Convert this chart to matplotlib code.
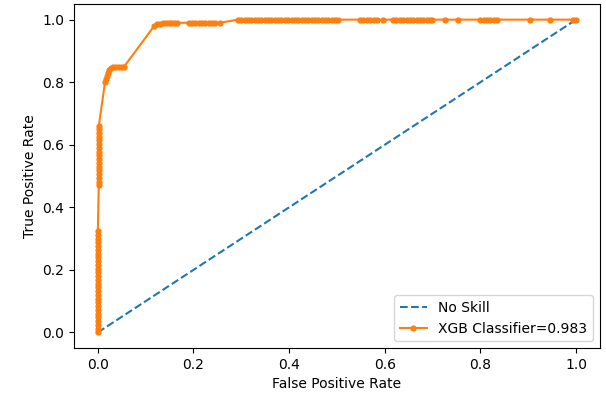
import matplotlib
matplotlib.use("Agg")
import matplotlib.pyplot as plt

# no-skill diagonal
ns_fpr = [0.0, 1.0]
ns_tpr = [0.0, 1.0]

# XGB ROC points
xgb_fpr = [
    # vertical run at fpr ~ 0
    0.0, 0.0, 0.0, 0.0, 0.0, 0.0, 0.0, 0.0, 0.0, 0.0, 0.0, 0.0, 0.0, 0.0,
    0.0, 0.0, 0.0, 0.0, 0.0, 0.0, 0.0, 0.0, 0.0, 0.0, 0.0, 0.0, 0.0, 0.0,
    0.002, 0.002, 0.002, 0.002, 0.002, 0.002, 0.002, 0.002, 0.002,
    0.002, 0.002, 0.002, 0.002, 0.002, 0.002, 0.002, 0.002,
    # knee
    0.015, 0.017, 0.019, 0.021, 0.024, 0.028, 0.032, 0.038, 0.044, 0.05, 0.055,
    0.118, 0.124, 0.13, 0.136, 0.142, 0.148, 0.154, 0.16, 0.166,
    0.19, 0.197, 0.204, 0.211, 0.218, 0.225, 0.232, 0.239, 0.246, 0.255,
    # top run
    0.293, 0.30, 0.307, 0.314, 0.321, 0.328, 0.335, 0.342, 0.349, 0.356, 0.363,
    0.37, 0.377, 0.384, 0.391, 0.398, 0.405, 0.412, 0.419, 0.426, 0.433,
    0.44, 0.447, 0.454, 0.461, 0.468, 0.475, 0.482, 0.489, 0.496, 0.503,
    0.548, 0.555, 0.562, 0.569, 0.577, 0.584, 0.596,
    0.617, 0.624, 0.631, 0.638, 0.646,
    0.653, 0.66, 0.667, 0.674, 0.681, 0.688, 0.695, 0.699,
    0.726, 0.753, 0.80, 0.807, 0.814, 0.821, 0.828, 0.835,
    0.904, 0.946, 0.994, 1.0,
]
xgb_tpr = [
    0.0, 0.012, 0.024, 0.036, 0.048, 0.06, 0.072, 0.084, 0.096, 0.108, 0.12, 0.132, 0.144, 0.156,
    0.168, 0.18, 0.192, 0.204, 0.216, 0.228, 0.24, 0.252, 0.264, 0.276, 0.288, 0.30, 0.312, 0.324,
    0.47, 0.482, 0.494, 0.506, 0.518, 0.53, 0.542, 0.554, 0.566,
    0.578, 0.59, 0.602, 0.614, 0.626, 0.638, 0.65, 0.66,
    0.80, 0.81, 0.82, 0.83, 0.84, 0.845, 0.85, 0.85, 0.85, 0.85, 0.85,
    0.98, 0.985, 0.985, 0.99, 0.99, 0.99, 0.99, 0.99, 0.99,
    0.99, 0.99, 0.99, 0.99, 0.99, 0.99, 0.99, 0.99, 0.99, 0.99,
    1.0, 1.0, 1.0, 1.0, 1.0, 1.0, 1.0, 1.0, 1.0, 1.0, 1.0,
    1.0, 1.0, 1.0, 1.0, 1.0, 1.0, 1.0, 1.0, 1.0, 1.0,
    1.0, 1.0, 1.0, 1.0, 1.0, 1.0, 1.0, 1.0, 1.0, 1.0,
    1.0, 1.0, 1.0, 1.0, 1.0, 1.0, 1.0,
    1.0, 1.0, 1.0, 1.0, 1.0,
    1.0, 1.0, 1.0, 1.0, 1.0, 1.0, 1.0, 1.0,
    1.0, 1.0, 1.0, 1.0, 1.0, 1.0, 1.0, 1.0,
    1.0, 1.0, 1.0, 1.0,
]
auc_label = "XGB Classifier=0.983"

fig = plt.figure(figsize=(6.06, 4.01), dpi=100)
ax = fig.add_axes([0.122, 0.132, 0.868, 0.858])

ax.plot(ns_fpr, ns_tpr, linestyle='--', label='No Skill')
ax.plot(xgb_fpr, xgb_tpr, marker='.', markersize=7, label=auc_label)

ax.set_xlabel("False Positive Rate")
ax.set_ylabel("True Positive Rate")
ax.legend(loc='lower right')

fig.savefig("out.png", dpi=100)
